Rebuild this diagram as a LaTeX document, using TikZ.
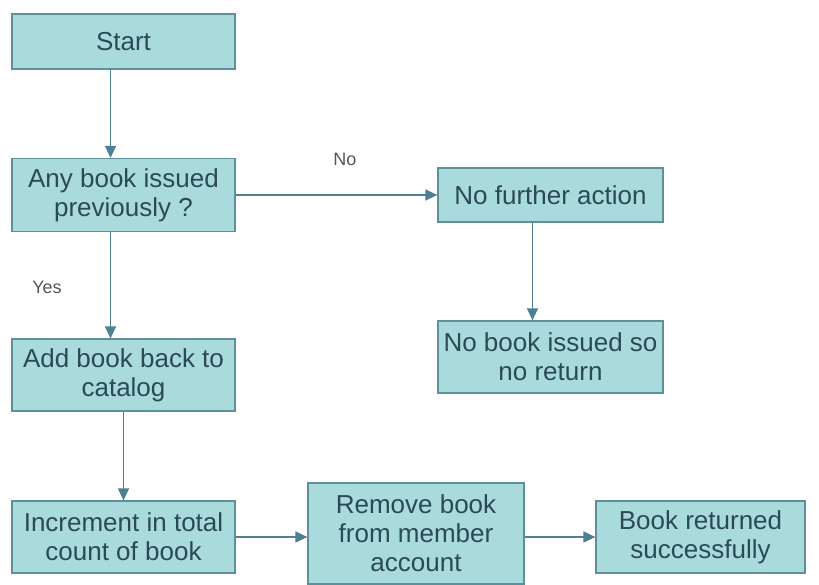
\documentclass[tikz,border=0pt]{standalone}
\usepackage{fontspec}
\setmainfont{Liberation Sans}
\usetikzlibrary{arrows.meta}
\definecolor{boxfill}{HTML}{A9DADC}
\definecolor{boxline}{HTML}{5E909C}
\definecolor{boxtext}{HTML}{2C4A56}
\definecolor{arrcol}{HTML}{4F7F95}
\definecolor{lblcol}{HTML}{555555}
\tikzset{
  box/.style={draw=boxline, line width=1.2pt, fill=boxfill, text=boxtext,
    rectangle, align=center, inner sep=0pt,
    font=\fontsize{26}{29}\selectfont},
  arr/.style={draw=arrcol, line width=1.3pt, -{Triangle[length=12pt,width=11pt]}},
  lbl/.style={text=lblcol, font=\fontsize{18}{22}\selectfont}
}
\begin{document}
\begin{tikzpicture}[x=1pt,y=-1pt]
\useasboundingbox (0,0) rectangle (819,585);
\node[box, minimum width=223pt, minimum height=55pt] (start) at (123.5,41.5) {Start};
\node[box, minimum width=223pt, minimum height=73pt] (any) at (123.5,195) {Any book issued\\previously ?};
\node[box, minimum width=223pt, minimum height=72pt] (add) at (123.5,375) {Add book back to\\catalog};
\node[box, minimum width=223pt, minimum height=72pt] (inc) at (123.5,537) {Increment in total\\count of book};
\node[box, minimum width=216pt, minimum height=101pt] (rem) at (416,533.5) {Remove book\\from member\\account};
\node[box, minimum width=209pt, minimum height=72pt] (ret) at (700.5,537) {Book returned\\successfully};
\node[box, minimum width=225pt, minimum height=54pt] (nfa) at (550.5,195) {No further action};
\node[box, minimum width=225pt, minimum height=72pt] (nbi) at (550.5,357) {No book issued so\\no return};
\draw[arr] ([xshift=-13pt]start.south) -- ([xshift=-13pt]any.north);
\draw[arr] ([xshift=-13pt]any.south) -- ([xshift=-13pt]add.north);
\draw[arr] (add.south) -- (inc.north);
\draw[arr] (any.east) -- (nfa.west);
\draw[arr] ([xshift=-18pt]nfa.south) -- ([xshift=-18pt]nbi.north);
\draw[arr] (inc.east) -- (inc.east -| rem.west);
\draw[arr] (rem.east |- ret.west) -- (ret.west);
\node[lbl] (no) at (345,159) {No};
\node[lbl] (yes) at (47,287) {Yes};
\end{tikzpicture}
\end{document}
